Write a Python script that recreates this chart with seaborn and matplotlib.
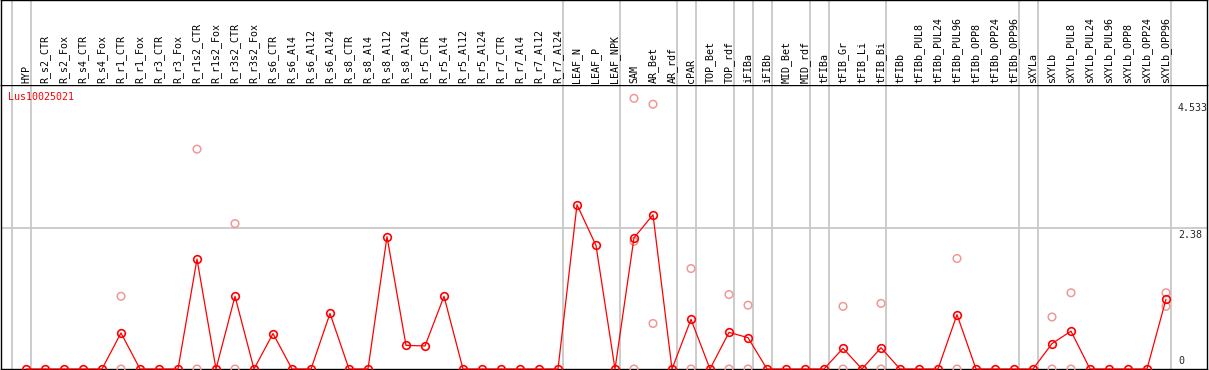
import seaborn as sns
import pandas as pd
import matplotlib.pyplot as plt
import matplotlib.transforms as mtransforms

# Datos
muestras = ["HYP", "R_s2_CTR", "R_s2_Fox", "R_s4_CTR", "R_s4_Fox", "R_r1_CTR", "R_r1_Fox",
            "R_r3_CTR", "R_r3_Fox", "R_r1s2_CTR", "R_r1s2_Fox", "R_r3s2_CTR", "R_r3s2_Fox",
            "R_s6_CTR", "R_s6_Al4", "R_s6_Al12", "R_s6_Al24", "R_s8_CTR", "R_s8_Al4",
            "R_s8_Al12", "R_s8_Al24", "R_r5_CTR", "R_r5_Al4", "R_r5_Al12", "R_r5_Al24",
            "R_r7_CTR", "R_r7_Al4", "R_r7_Al12", "R_r7_Al24", "LEAF_N", "LEAF_P", "LEAF_NPK",
            "SAM", "AR_Bet", "AR_rdf", "cPAR", "TOP_Bet", "TOP_rdf", "iFIBa", "iFIBb",
            "MID_Bet", "MID_rdf", "tFIBa", "tFIB_Gr", "tFIB_Li", "tFIB_Bi", "tFIBb",
            "tFIBb_PUL8", "tFIBb_PUL24", "tFIBb_PUL96", "tFIBb_OPP8", "tFIBb_OPP24",
            "tFIBb_OPP96", "sXYLa", "sXYLb", "sXYLb_PUL8", "sXYLb_PUL24", "sXYLb_PUL96",
            "sXYLb_OPP8", "sXYLb_OPP24", "sXYLb_OPP96"]
medias = [0, 0, 0, 0, 0, 0.61, 0, 0, 0, 1.86, 0, 1.23, 0,
          0.60, 0, 0, 0.94, 0, 0, 2.24, 0.40, 0.39, 1.23, 0, 0,
          0, 0, 0, 0, 2.78, 2.09, 0,
          2.22, 2.61, 0, 0.84, 0, 0.62, 0.53, 0,
          0, 0, 0, 0.35, 0, 0.36, 0,
          0, 0, 0.92, 0, 0, 0, 0, 0.43, 0.64, 0, 0, 0, 0, 1.18]

# replicas visibles
rep_muestras = ["R_r1_CTR", "R_r1_CTR", "R_r1s2_CTR", "R_r1s2_CTR", "R_r3s2_CTR", "R_r3s2_CTR",
                "SAM", "SAM", "SAM", "AR_Bet", "AR_Bet", "cPAR", "cPAR", "TOP_rdf", "TOP_rdf",
                "iFIBa", "iFIBa", "tFIB_Gr", "tFIB_Gr", "tFIB_Bi", "tFIB_Bi",
                "tFIBb_PUL96", "tFIBb_PUL96", "sXYLb", "sXYLb", "sXYLb_PUL8", "sXYLb_PUL8",
                "sXYLb_OPP96", "sXYLb_OPP96"]
rep_valores = [1.23, 0, 3.72, 0, 2.46, 0,
               4.58, 2.16, 0, 4.48, 0.77, 1.70, 0, 1.26, 0,
               1.08, 0, 1.06, 0, 1.11, 0,
               1.87, 0, 0.88, 0, 1.29, 0,
               1.29, 1.06]

# ultimo indice de cada grupo (lineas grises)
fin_grupo = [-1, 0, 28, 31, 34, 35, 37, 38, 39, 41, 42, 45, 52, 53, 60]
ticks_y = [0, 2.38, 4.533]
ticks_txt = ["0", "2.38", "4.533"]
gen = "Lus10025021"

df = pd.DataFrame({"muestra": muestras, "media": medias})
df["pos"] = range(len(df))
reps = pd.DataFrame({"muestra": rep_muestras, "valor": rep_valores})
reps["pos"] = reps["muestra"].map(dict(zip(muestras, df["pos"])))

sns.set_style("white")
plt.rcParams["font.family"] = ["DejaVu Sans Mono"]
fuente = 7.2
gris = "#c8c8c8"

W, H = 1209, 370
fig = plt.figure(figsize=(W / 100, H / 100), dpi=100)
ax = fig.add_axes([1 / W, 1 / H, 1206 / W, 284 / H])
ax_top = fig.add_axes([1 / W, 285 / H, 1206 / W, 85 / H], sharex=ax)

x_min = (1 - 26) / 19
x_max = (1207 - 26) / 19
ax.set_xlim(x_min, x_max)
ax.set_ylim(0, 284 / 59.1)
ax_top.set_ylim(0, 1)

for g in fin_grupo:
    ax.axvline(g + 0.24, color=gris, lw=1.3, zorder=0)
    ax_top.axvline(g + 0.24, color=gris, lw=1.3, zorder=0)
ax.axhline(2.38, color=gris, lw=1.3, zorder=0)

sns.scatterplot(data=reps, x="pos", y="valor", ax=ax, marker="o", s=30,
                facecolor="none", edgecolor="#f09898", linewidth=1.1,
                clip_on=False, zorder=3)
sns.lineplot(data=df, x="pos", y="media", ax=ax, color="red", linewidth=0.9,
             marker="o", markersize=5.5, markerfacecolor="none",
             markeredgecolor="red", markeredgewidth=1.2, clip_on=False, zorder=4)

# etiquetas de muestras
for i, m in enumerate(muestras):
    ax_top.text(i, 2 / 85, m, rotation=90, ha="center", va="bottom",
                fontsize=fuente, color="black")

# etiquetas eje y a la derecha
trans = mtransforms.blended_transform_factory(ax.transAxes, ax.transData)
for v, t in zip(ticks_y, ticks_txt):
    if v == 0:
        ax.annotate(t, xy=(1177 / 1206, v), xycoords=trans, xytext=(0, 3),
                    textcoords="offset pixels", ha="left", va="bottom", fontsize=fuente)
    else:
        ax.annotate(t, xy=(1177 / 1206, v), xycoords=trans, xytext=(0, -2),
                    textcoords="offset pixels", ha="left", va="top", fontsize=fuente)

ax.text(7 / 1206, 1 - 12 / 284, gen, transform=ax.transAxes, color="red",
        fontsize=fuente, ha="left", va="center")

for a in (ax, ax_top):
    a.set_xticks([])
    a.set_yticks([])
    a.set_xlabel("")
    a.set_ylabel("")
    for s in a.spines.values():
        s.set_color("black")
        s.set_linewidth(1)
    if a.get_legend():
        a.get_legend().remove()
ax_top.spines["bottom"].set_visible(False)

plt.savefig("out.png", dpi=100)
plt.close()
